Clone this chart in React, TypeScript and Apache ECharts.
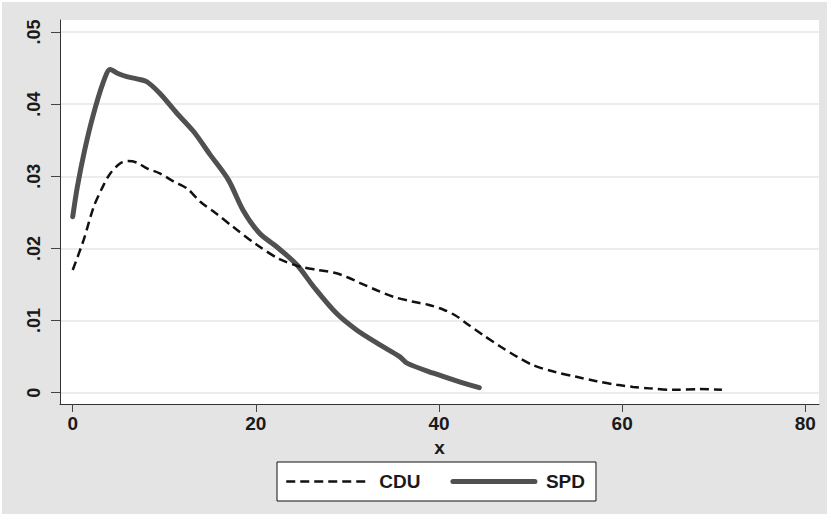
import React, { useEffect, useRef } from "react";
import * as echarts from "echarts";

const cduX = [0, 1.2, 2.3, 3.3, 4.1, 5.2, 6.0, 7.0, 8.1, 9.5, 11.0, 12.5, 13.9, 15.7, 17.5, 20.1, 22.6, 24.8, 26.8, 28.7, 30.0, 31.4, 33.2, 35.0, 37.2, 38.8, 40.5, 41.8, 43.0, 44.8, 46.7, 48.5, 50.3, 52.6, 55.0, 57.2, 59.4, 61.2, 63.0, 65.6, 68.5, 70.9];
const cduY = [0.0170, 0.0212, 0.0258, 0.0286, 0.0304, 0.0318, 0.0321, 0.0319, 0.0311, 0.0304, 0.0293, 0.0283, 0.0265, 0.0248, 0.0230, 0.0205, 0.0185, 0.0175, 0.0170, 0.0166, 0.0160, 0.0152, 0.0142, 0.0133, 0.0126, 0.0122, 0.0115, 0.0107, 0.0096, 0.0080, 0.0064, 0.0050, 0.0038, 0.0029, 0.0022, 0.0016, 0.0011, 0.0008, 0.0006, 0.0004, 0.0005, 0.0004];

const spdX = [0, 0.5, 1.3, 2.2, 3.3, 4.1, 5.0, 5.9, 7.0, 8.1, 9.5, 11.4, 13.2, 15.0, 17.0, 18.6, 20.4, 22.3, 24.5, 26.3, 28.8, 31.0, 33.6, 35.7, 36.5, 39.4, 42.0, 44.4];
const spdY = [0.0244, 0.0285, 0.0336, 0.0383, 0.0429, 0.0448, 0.0442, 0.0438, 0.0435, 0.0431, 0.0415, 0.0387, 0.0362, 0.0330, 0.0295, 0.0253, 0.0221, 0.0202, 0.0177, 0.0147, 0.0110, 0.0087, 0.0066, 0.0050, 0.0041, 0.0027, 0.0016, 0.0007];

const xTicks = [0, 20, 40, 60, 80];
const yTicks = [0, 0.01, 0.02, 0.03, 0.04, 0.05];
const yTickLabels = ["0", ".01", ".02", ".03", ".04", ".05"];
const seriesNames = ["CDU", "SPD"];
const xTitle = "x";

const FONT = "'Liberation Sans', Arial, Helvetica, sans-serif";
const TXT = { fontFamily: FONT, fontWeight: "bold" as const, color: "#1a1a1a" };

export default function App() {
  const ref = useRef<HTMLDivElement>(null);
  useEffect(() => {
    if (!ref.current) return;
    const chart = echarts.init(ref.current, null, { renderer: "svg" });
    const zip = (xs: number[], ys: number[]) => xs.map((x, i) => [x, ys[i]]);
    chart.setOption({
      animation: false,
      backgroundColor: "transparent",
      grid: {
        left: 60,
        top: 20,
        right: 8,
        bottom: 110,
        show: true,
        backgroundColor: "#ffffff",
        borderWidth: 0,
        outerBoundsMode: "none",
        containLabel: false,
      },
      xAxis: {
        type: "value",
        min: -1.39,
        max: 81.5,
        name: xTitle,
        nameLocation: "middle",
        nameGap: 27,
        nameTextStyle: { ...TXT, fontSize: 19 },
        axisLine: { show: true, onZero: false, lineStyle: { color: "#333", width: 1 } },
        axisTick: { show: true, length: 8, customValues: xTicks, lineStyle: { color: "#444", width: 1 } },
        axisLabel: { customValues: xTicks, margin: 10, ...TXT, fontSize: 19 },
        splitLine: { show: false },
      },
      yAxis: {
        type: "value",
        min: -0.001566,
        max: 0.05166,
        axisLine: { show: true, onZero: false, lineStyle: { color: "#333", width: 1 } },
        axisTick: { show: true, length: 9, customValues: yTicks, lineStyle: { color: "#444", width: 1 } },
        axisLabel: {
          customValues: yTicks,
          rotate: 90,
          margin: 17,
          ...TXT,
          fontSize: 18,
          formatter: (v: number) => {
            const i = yTicks.findIndex((t) => Math.abs(t - v) < 1e-9);
            return i >= 0 ? yTickLabels[i] : "";
          },
        },
        splitLine: { show: true, lineStyle: { color: "#e6e6e6", width: 1.5 } },
      },
      legend: {
        left: 277,
        top: 462,
        orient: "horizontal",
        padding: [10, 11, 10, 8],
        itemWidth: 82,
        itemHeight: 14,
        itemGap: 30,
        backgroundColor: "#ffffff",
        borderColor: "#111",
        borderWidth: 1,
        borderRadius: 0,
        itemStyle: { opacity: 0 },
        textStyle: { ...TXT, fontSize: 19, padding: [0, 0, 0, 6] },
        data: [
          { name: seriesNames[0], lineStyle: { width: 2.5, type: [9, 5], color: "#111" } },
          { name: seriesNames[1], lineStyle: { width: 5, color: "#505050" } },
        ],
      },
      series: [
        {
          name: seriesNames[0],
          type: "line",
          data: zip(cduX, cduY),
          smooth: 0.3,
          symbol: "none",
          showSymbol: false,
          lineStyle: { color: "#111", width: 2.5, type: [9, 5] },
          itemStyle: { color: "#111" },
          z: 3,
        },
        {
          name: seriesNames[1],
          type: "line",
          data: zip(spdX, spdY),
          smooth: 0.3,
          symbol: "none",
          showSymbol: false,
          lineStyle: { color: "#505050", width: 5, cap: "round", join: "round" },
          itemStyle: { color: "#505050" },
          z: 2,
        },
      ],
    });
    return () => chart.dispose();
  }, []);

  return (
    <div style={{ position: "fixed", left: 0, top: 0, width: 827, height: 514, background: "#ffffff" }}>
      <div style={{ position: "absolute", left: 2, top: 2, right: 0, bottom: 0, background: "#e4e4e4" }} />
      <div ref={ref} style={{ position: "absolute", left: 0, top: 0, width: 827, height: 514 }} />
    </div>
  );
}
